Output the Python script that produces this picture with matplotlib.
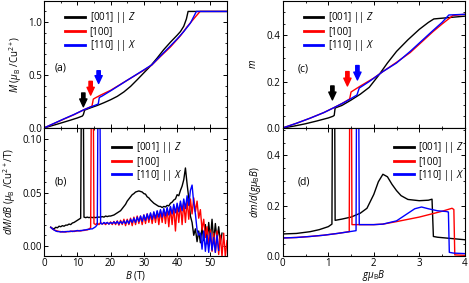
import numpy as np
import matplotlib
matplotlib.use("Agg")
import matplotlib.pyplot as plt
from matplotlib.ticker import MultipleLocator

plt.rcParams['font.family'] = ['Open Sans', 'DejaVu Sans']
plt.rcParams['mathtext.fontset'] = 'custom'
plt.rcParams['mathtext.rm'] = 'Open Sans'
plt.rcParams['mathtext.it'] = 'Open Sans:italic'
plt.rcParams['font.size'] = 7

LABELS = [r'[001] || $Z$', '[100]', r'[110] || $X$']
COLORS = ['black', 'red', 'blue']

# ---- (a) M vs B ----
a_B_001 = [0, 2, 4, 6, 8, 10, 11.5, 11.8, 12.2, 13, 14, 16, 18, 20, 22, 24, 26, 28,
           30, 32, 34, 36, 37, 38, 40, 41, 42, 42.8, 43.3, 55]
a_M_001 = [0, 0.018, 0.036, 0.055, 0.074, 0.094, 0.112, 0.125, 0.168, 0.178, 0.19, 0.212,
           0.238, 0.266, 0.298, 0.34, 0.392, 0.455, 0.52, 0.585, 0.66, 0.74, 0.775, 0.81,
           0.875, 0.91, 0.96, 1.03, 1.10, 1.10]
a_B_100 = [0, 3, 6, 9, 12, 14, 14.4, 14.8, 15.5, 17, 20, 25, 30, 32.4, 35, 38, 39, 41,
           43, 45, 46.9, 55]
a_M_100 = [0, 0.042, 0.084, 0.125, 0.172, 0.2, 0.206, 0.272, 0.285, 0.31, 0.355, 0.45,
           0.545, 0.594, 0.675, 0.765, 0.80, 0.87, 0.955, 1.03, 1.10, 1.10]
a_B_110 = [0, 3, 6, 9, 12, 14, 16, 16.3, 16.6, 17.5, 20, 25, 30, 32.4, 35, 38, 40, 42,
           44, 45.8, 55]
a_M_110 = [0, 0.043, 0.086, 0.127, 0.172, 0.198, 0.222, 0.228, 0.287, 0.302, 0.35, 0.45,
           0.548, 0.596, 0.68, 0.775, 0.84, 0.91, 0.99, 1.10, 1.10]

# ---- (b) dM/dB vs B, sampled every 0.5 T from 2 T ----
b_dM_001 = [0.0175, 0.0165, 0.016, 0.0175, 0.017, 0.0185, 0.018, 0.019, 0.0185, 0.0195,
            0.0195, 0.0205, 0.020, 0.0215, 0.022, 0.023, 0.024, 0.025, 0.026, 0.30,
            0.027, 0.0265, 0.027, 0.0265, 0.027, 0.0265, 0.027, 0.0265, 0.027, 0.027,
            0.027, 0.0275, 0.027, 0.028, 0.0275, 0.028, 0.028, 0.0285, 0.029, 0.030,
            0.031, 0.032, 0.033, 0.035, 0.037, 0.039, 0.042, 0.044, 0.046, 0.048,
            0.049, 0.0505, 0.051, 0.0515, 0.051, 0.0505, 0.049, 0.0485, 0.046, 0.045,
            0.043, 0.0415, 0.040, 0.039, 0.038, 0.037, 0.037, 0.036, 0.037, 0.0365,
            0.038, 0.0375, 0.040, 0.041, 0.043, 0.044, 0.048, 0.047, 0.052, 0.056,
            0.062, 0.073, 0.058, 0.045, 0.028, 0.022, 0.010, 0.016, 0.004, 0.014,
            0.003, 0.018, 0.005, 0.020, 0.002, 0.022, 0.006, 0.025, 0.004, 0.021,
            0.006, 0.018, 0.003, 0.012]
b_dM_100 = [0.0175, 0.016, 0.015, 0.0145, 0.014, 0.0135, 0.0135, 0.013, 0.0135, 0.013,
            0.0135, 0.0135, 0.0135, 0.014, 0.0135, 0.014, 0.014, 0.0145, 0.014, 0.0145,
            0.0145, 0.015, 0.015, 0.016, 0.017, 0.30, 0.021, 0.020, 0.0215, 0.020,
            0.022, 0.0205, 0.0215, 0.020, 0.022, 0.0205, 0.0225, 0.020, 0.023, 0.020,
            0.0235, 0.0195, 0.024, 0.020, 0.025, 0.019, 0.025, 0.020, 0.026, 0.019,
            0.027, 0.020, 0.028, 0.021, 0.028, 0.020, 0.029, 0.021, 0.030, 0.022,
            0.030, 0.021, 0.031, 0.022, 0.032, 0.020, 0.033, 0.022, 0.034, 0.021,
            0.035, 0.018, 0.036, 0.020, 0.037, 0.014, 0.038, 0.022, 0.040, 0.020,
            0.041, 0.022, 0.043, 0.025, 0.044, 0.030, 0.045, 0.032, 0.042, 0.026,
            0.034, 0.015, 0.025, 0.008, 0.018, 0.000, 0.015, -0.005, 0.012, -0.006,
            0.014, -0.008, 0.010, -0.010, 0.012, -0.010, 0.005]
b_dM_110 = [0.0175, 0.016, 0.015, 0.014, 0.0135, 0.0135, 0.013, 0.0135, 0.013, 0.0135,
            0.0135, 0.0135, 0.014, 0.0135, 0.014, 0.014, 0.0145, 0.014, 0.0145, 0.0145,
            0.015, 0.015, 0.0155, 0.0155, 0.016, 0.016, 0.017, 0.018, 0.020, 0.30,
            0.021, 0.0205, 0.022, 0.021, 0.022, 0.0205, 0.022, 0.021, 0.0225, 0.021,
            0.023, 0.0205, 0.023, 0.021, 0.0235, 0.021, 0.024, 0.021, 0.025, 0.022,
            0.026, 0.022, 0.027, 0.023, 0.028, 0.023, 0.029, 0.024, 0.030, 0.025,
            0.031, 0.025, 0.032, 0.026, 0.033, 0.027, 0.034, 0.027, 0.035, 0.028,
            0.036, 0.029, 0.037, 0.030, 0.039, 0.031, 0.040, 0.032, 0.042, 0.033,
            0.044, 0.035, 0.047, 0.038, 0.052, 0.057, 0.040, 0.030, 0.015, 0.010,
            0.012, -0.003, 0.014, -0.005, 0.010, -0.006, 0.012, -0.004, 0.008, -0.006,
            0.010, -0.004]
b_B_001 = np.arange(len(b_dM_001)) * 0.5 + 2
b_B_100 = np.arange(len(b_dM_100)) * 0.5 + 2
b_B_110 = np.arange(len(b_dM_110)) * 0.5 + 2

# ---- (c) m vs g mu_B B ----
c_x_001 = [0, 0.25, 0.5, 0.75, 1.0, 1.1, 1.13, 1.15, 1.3, 1.5, 1.7, 1.9, 2.1, 2.3, 2.5,
           2.75, 3.0, 3.2, 3.32, 4.0]
c_m_001 = [0, 0.008, 0.018, 0.03, 0.043, 0.05, 0.054, 0.086, 0.097, 0.12, 0.145, 0.175,
           0.225, 0.28, 0.33, 0.38, 0.425, 0.455, 0.47, 0.482]
c_x_100 = [0, 0.3, 0.6, 0.9, 1.13, 1.3, 1.47, 1.5, 1.7, 2.0, 2.2, 2.5, 2.8, 3.05, 3.3,
           3.5, 3.74, 4.0]
c_m_100 = [0, 0.02, 0.042, 0.066, 0.088, 0.105, 0.125, 0.155, 0.18, 0.215, 0.243, 0.283,
           0.325, 0.37, 0.415, 0.448, 0.485, 0.49]
c_x_110 = [0, 0.3, 0.6, 0.9, 1.13, 1.4, 1.63, 1.68, 1.9, 2.2, 2.5, 2.8, 3.05, 3.3, 3.5,
           3.65, 4.0]
c_m_110 = [0, 0.02, 0.042, 0.066, 0.088, 0.115, 0.142, 0.172, 0.2, 0.243, 0.28, 0.33,
           0.375, 0.42, 0.455, 0.487, 0.49]

# ---- (d) dm/d(g mu_B B) ----
d_x_001 = [0, 0.3, 0.6, 0.8, 1.0, 1.08, 1.09, 1.14, 1.15, 1.3, 1.5, 1.7, 1.85, 2.0, 2.1,
           2.2, 2.3, 2.4, 2.5, 2.6, 2.75, 3.0, 3.2, 3.28, 3.31, 3.4, 3.7, 4.0]
d_y_001 = [0.088, 0.09, 0.097, 0.105, 0.117, 0.127, 0.6, 0.6, 0.142, 0.147, 0.155, 0.17,
           0.19, 0.245, 0.295, 0.325, 0.315, 0.285, 0.26, 0.24, 0.225, 0.22, 0.222, 0.226,
           0.078, 0.075, 0.07, 0.065]
d_x_100 = [0, 0.3, 0.6, 0.9, 1.2, 1.46, 1.47, 1.51, 1.52, 2.0, 2.2, 2.5, 3.0, 3.5, 3.72,
           3.76, 3.78, 4.0]
d_y_100 = [0.072, 0.074, 0.078, 0.083, 0.09, 0.097, 0.6, 0.6, 0.125, 0.125, 0.127, 0.137,
           0.155, 0.178, 0.19, 0.185, 0.005, 0.003]
d_x_110 = [0, 0.3, 0.6, 0.9, 1.2, 1.5, 1.61, 1.62, 1.67, 1.68, 2.0, 2.2, 2.5, 2.75, 2.9,
           3.05, 3.2, 3.4, 3.6, 3.64, 3.66, 3.75, 4.0]
d_y_110 = [0.072, 0.074, 0.078, 0.083, 0.09, 0.098, 0.101, 0.6, 0.6, 0.125, 0.125, 0.127,
           0.14, 0.17, 0.188, 0.195, 0.188, 0.18, 0.177, 0.175, 0.015, 0.012, 0.01]

# arrows marking the jumps: x, tip, tail
a_arrows = [(11.8, 0.20, 0.33), (14.0, 0.31, 0.44), (16.4, 0.42, 0.54)]
c_arrows = [(1.09, 0.121, 0.181), (1.42, 0.181, 0.243), (1.64, 0.207, 0.269)]


fig = plt.figure(figsize=(4.69, 2.83), dpi=100)
axa = fig.add_axes([0.094, 0.548, 0.390, 0.449])
axb = fig.add_axes([0.094, 0.095, 0.390, 0.453])
axc = fig.add_axes([0.603, 0.548, 0.388, 0.449])
axd = fig.add_axes([0.603, 0.095, 0.388, 0.453])

lw = 1.0
for x, y, c, lab in zip([a_B_001, a_B_100, a_B_110], [a_M_001, a_M_100, a_M_110], COLORS, LABELS):
    axa.plot(x, y, color=c, lw=lw, label=lab)
for x, y, c, lab in zip([b_B_001, b_B_100, b_B_110], [b_dM_001, b_dM_100, b_dM_110], COLORS, LABELS):
    axb.plot(x, y, color=c, lw=lw, label=lab)
for x, y, c, lab in zip([c_x_001, c_x_100, c_x_110], [c_m_001, c_m_100, c_m_110], COLORS, LABELS):
    axc.plot(x, y, color=c, lw=lw, label=lab)
for x, y, c, lab in zip([d_x_001, d_x_100, d_x_110], [d_y_001, d_y_100, d_y_110], COLORS, LABELS):
    axd.plot(x, y, color=c, lw=lw, label=lab)

for ax, arrows in [(axa, a_arrows), (axc, c_arrows)]:
    for (x, tip, tail), c in zip(arrows, COLORS):
        ax.annotate('', xy=(x, tip), xytext=(x, tail),
                    arrowprops=dict(arrowstyle='simple,head_width=0.65,head_length=0.7,tail_width=0.3',
                                    color=c, shrinkA=0, shrinkB=0, mutation_scale=8))

axa.set_xlim(0, 55)
axb.set_xlim(0, 55)
axa.set_ylim(0, 1.2)
axb.set_ylim(-0.0095, 0.1105)
axc.set_xlim(0, 4)
axd.set_xlim(0, 4)
axc.set_ylim(0, 0.548)
axd.set_ylim(0, 0.509)

for ax in [axa, axb]:
    ax.xaxis.set_major_locator(MultipleLocator(10))
    ax.xaxis.set_minor_locator(MultipleLocator(5))
for ax in [axc, axd]:
    ax.xaxis.set_major_locator(MultipleLocator(1))
    ax.xaxis.set_minor_locator(MultipleLocator(0.5))
    ax.yaxis.set_major_locator(MultipleLocator(0.2))
    ax.yaxis.set_minor_locator(MultipleLocator(0.05))
axa.yaxis.set_major_locator(MultipleLocator(0.5))
axa.yaxis.set_minor_locator(MultipleLocator(0.1))
axb.yaxis.set_major_locator(MultipleLocator(0.05))
axb.yaxis.set_minor_locator(MultipleLocator(0.01))
axa.yaxis.set_major_formatter(plt.FormatStrFormatter('%.1f'))
axb.yaxis.set_major_formatter(plt.FormatStrFormatter('%.2f'))
axc.yaxis.set_major_formatter(plt.FormatStrFormatter('%.1f'))
axd.yaxis.set_major_formatter(plt.FormatStrFormatter('%.1f'))

for ax in [axa, axb, axc, axd]:
    ax.tick_params(which='both', direction='in', top=True, right=True, labelsize=7, pad=1.5)
    ax.tick_params(which='major', length=3, width=0.7)
    ax.tick_params(which='minor', length=1.5, width=0.6)
    for s in ax.spines.values():
        s.set_linewidth(0.8)
axa.tick_params(labelbottom=False)
axc.tick_params(labelbottom=False)

legend_kw = dict(loc='upper left', frameon=False, fontsize=7, handlelength=2.0,
                 handletextpad=0.5, labelspacing=0.08, borderaxespad=0.0)
axa.legend(bbox_to_anchor=(0.095, 0.955), **legend_kw)
axb.legend(bbox_to_anchor=(0.35, 0.935), **legend_kw)
axc.legend(bbox_to_anchor=(0.095, 0.955), **legend_kw)
axd.legend(bbox_to_anchor=(0.59, 0.935), **legend_kw)
for ax in [axa, axb, axc, axd]:
    for h in ax.get_legend().legend_handles:
        h.set_linewidth(2.0)

axa.text(0.06, 0.47, '(a)', transform=axa.transAxes, fontsize=7.5, va='center')
axb.text(0.06, 0.575, '(b)', transform=axb.transAxes, fontsize=7.5, va='center')
axc.text(0.08, 0.46, '(c)', transform=axc.transAxes, fontsize=7.5, va='center')
axd.text(0.08, 0.575, '(d)', transform=axd.transAxes, fontsize=7.5, va='center')

axa.set_ylabel(r'$M$ ($\mu_{\rm B}$ /Cu$^{2+}$)', fontsize=7, labelpad=3)
axb.set_ylabel(r'$dM/dB$ ($\mu_{\rm B}$ /Cu$^{2+}$/T)', fontsize=7, labelpad=3)
axb.set_xlabel(r'$B$ (T)', fontsize=7, labelpad=0)
axc.set_ylabel(r'$m$', fontsize=7, labelpad=6)
axd.set_ylabel(r'$dm/d(g\mu_{\rm B}B)$', fontsize=7, labelpad=3)
axd.set_xlabel(r'$g\mu_{\rm B}B$', fontsize=7, labelpad=-1)

fig.savefig('out.png', dpi=100)
